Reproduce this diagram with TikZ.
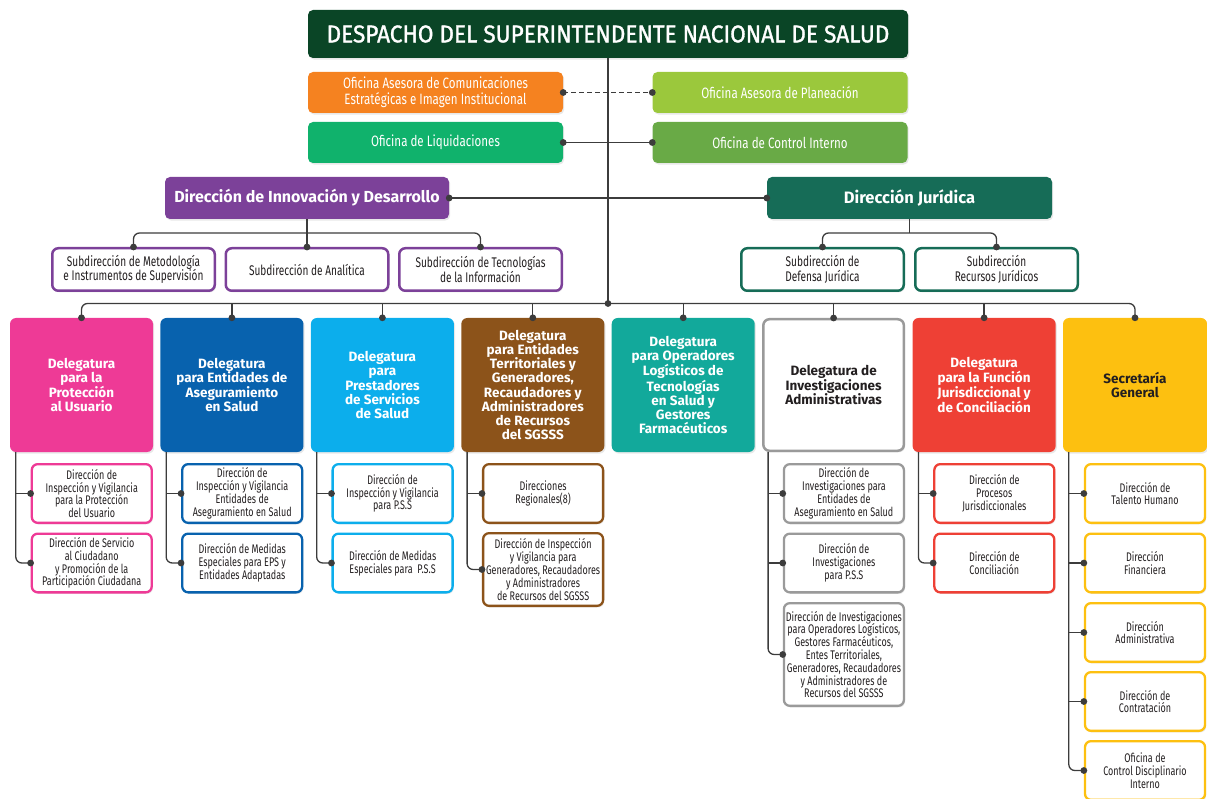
\documentclass[tikz,border=0pt]{standalone}
\usepackage{fontspec}
\setmainfont{Fira Sans}
\newfontfamily\condfont[FakeStretch=0.72]{Fira Sans}
\newfontfamily\ofont[FakeStretch=0.77]{Fira Sans}
\newfontfamily\titlefont[FakeStretch=0.93,FakeBold=1.2]{Fira Sans}
\usetikzlibrary{shadows}

\definecolor{linec}{HTML}{3C3C3C}
\definecolor{inktext}{HTML}{231F20}
\definecolor{cDespacho}{HTML}{0A4526}
\definecolor{cOrange}{HTML}{F58220}
\definecolor{cPlan}{HTML}{9BC83C}
\definecolor{cLiq}{HTML}{10B26C}
\definecolor{cCtrl}{HTML}{69AA46}
\definecolor{cPurple}{HTML}{7C4199}
\definecolor{cJur}{HTML}{166C57}
\definecolor{cPink}{HTML}{EE3A96}
\definecolor{cBlue}{HTML}{0862AE}
\definecolor{cSky}{HTML}{0CAEEC}
\definecolor{cBrown}{HTML}{8C531A}
\definecolor{cTeal}{HTML}{12A99B}
\definecolor{cGray}{HTML}{9A9A9A}
\definecolor{cRed}{HTML}{EE4035}
\definecolor{cYellow}{HTML}{FDC010}

\tikzset{
  link/.style={draw=linec, line width=1.3pt},
  jdot/.style={fill=linec},
  softshadow/.style={drop shadow={opacity=0.18, shadow xshift=1.2pt, shadow yshift=-1.6pt}},
  headbox/.style={rounded corners=5pt, softshadow, text=white, align=center, inner sep=2pt},
  ofbox/.style={headbox, minimum width=255pt, minimum height=41pt,
    font=\ofont\fontsize{15}{16}\selectfont},
  dirbox/.style={headbox, minimum height=42pt,
    font=\bfseries\fontsize{16}{18}\selectfont},
  subbox/.style={draw=#1, line width=2.5pt, fill=white, rounded corners=6pt, softshadow,
    minimum width=162.5pt, minimum height=42.5pt, align=center, text=inktext,
    font=\condfont\fontsize{14}{14.5}\selectfont, inner sep=1pt},
  delbox/.style={rounded corners=6pt, fill=#1, softshadow, text=white,
    minimum width=143pt, minimum height=134pt, align=center, inner sep=2pt,
    font=\bfseries\fontsize{13.5}{14.2}\selectfont},
  kidbox/.style={draw=#1, line width=2.3pt, fill=white, rounded corners=6pt, softshadow,
    minimum width=120pt, minimum height=58.7pt, align=center, text=inktext,
    font=\condfont\fontsize{12.5}{12.8}\selectfont, inner sep=1pt}
}

\begin{document}
\begin{tikzpicture}[x=1pt,y=-1pt]
\useasboundingbox (0,0) rectangle (1207,799);

% --- top level ---
\node[headbox, fill=cDespacho, minimum width=600pt, minimum height=48pt,
      font=\titlefont\fontsize{24.3}{26}\selectfont] (despacho) at (608,34)
      {DESPACHO DEL SUPERINTENDENTE NACIONAL DE SALUD};

\node[ofbox, fill=cOrange] (comunic) at (435.5,92.5)
  {Oficina Asesora de Comunicaciones\\Estratégicas e Imagen Institucional};
\node[ofbox, fill=cPlan] (planea) at (780,92.5) {Oficina Asesora de Planeación};
\node[ofbox, fill=cLiq] (liquid) at (435.5,142.5) {Oficina de Liquidaciones};
\node[ofbox, fill=cCtrl] (control) at (780,142.5) {Oficina de Control Interno};

\node[dirbox, fill=cPurple, minimum width=284pt] (innov) at (307,198)
  {Dirección de Innovación y Desarrollo};
\node[dirbox, fill=cJur, minimum width=285pt, font=\bfseries\fontsize{16.5}{18}\selectfont]
  (juridica) at (909.5,198) {Dirección Jurídica};

\node[subbox=cPurple] (sMet) at (133.5,269.5)
  {Subdirección de Metodología\\e Instrumentos de Supervisión};
\node[subbox=cPurple] (sAna) at (307,269.5) {Subdirección de Analítica};
\node[subbox=cPurple] (sTec) at (480.5,269.5)
  {Subdirección de Tecnologías\\de la Información};
\node[subbox=cJur] (sDef) at (822.5,269.5) {Subdirección de\\Defensa Jurídica};
\node[subbox=cJur] (sRec) at (996.5,269.5) {Subdirección\\Recursos Jurídicos};

% --- delegaturas ---
\node[delbox=cPink] (d1) at (81.5,385) {Delegatura\\para la\\Protección\\al Usuario};
\node[delbox=cBlue] (d2) at (231.9,385) {Delegatura\\para Entidades de\\Aseguramiento\\en Salud};
\node[delbox=cSky] (d3) at (382.4,385) {Delegatura\\para\\Prestadores\\de Servicios\\de Salud};
\node[delbox=cBrown] (d4) at (532.8,385)
  {Delegatura\\para Entidades\\Territoriales y\\Generadores,\\Recaudadores y\\Administradores\\de Recursos\\del SGSSS};
\node[delbox=cTeal] (d5) at (683.2,385)
  {Delegatura\\para Operadores\\Logísticos de\\Tecnologías\\en Salud y\\Gestores\\Farmacéuticos};
\node[delbox=white, draw=cGray, line width=2.5pt, minimum width=140.5pt, minimum height=131.5pt,
      text=inktext] (d6) at (833.6,385) {Delegatura de\\Investigaciones\\Administrativas};
\node[delbox=cRed] (d7) at (984.1,385) {Delegatura\\para la Función\\Jurisdiccional y\\de Conciliación};
\node[delbox=cYellow, text=inktext, minimum width=144pt] (d8) at (1135,385) {Secretaría\\General};

% --- direcciones ---
\node[kidbox=cPink] (k1a) at (91.75,493.5)
  {Dirección de\\Inspección y Vigilancia\\para la Protección\\del Usuario};
\node[kidbox=cPink] (k1b) at (91.75,563)
  {Dirección de Servicio\\al Ciudadano\\y Promoción de la\\Participación Ciudadana};

\node[kidbox=cBlue] (k2a) at (242.2,493.5)
  {Dirección de\\Inspección y Vigilancia\\Entidades de\\Aseguramiento en Salud};
\node[kidbox=cBlue] (k2b) at (242.2,563)
  {Dirección de Medidas\\Especiales para EPS y\\Entidades Adaptadas};

\node[kidbox=cSky] (k3a) at (392.6,493.5)
  {Dirección de\\Inspección y Vigilancia\\para P.S.S};
\node[kidbox=cSky] (k3b) at (392.6,563)
  {Dirección de Medidas\\Especiales para\ \ P.S.S};

\node[kidbox=cBrown] (k4a) at (543.1,493.5) {Direcciones\\Regionales(8)};
\node[kidbox=cBrown, minimum height=72.7pt] (k4b) at (543.1,569.5)
  {Dirección de Inspección\\y Vigilancia para\\Generadores, Recaudadores\\y Administradores\\de Recursos del SGSSS};

\node[kidbox=cGray] (k6a) at (843.9,493.5)
  {Dirección de\\Investigaciones para\\Entidades de\\Aseguramiento en Salud};
\node[kidbox=cGray] (k6b) at (843.9,563)
  {Dirección de\\Investigaciones\\para P.S.S};
\node[kidbox=cGray, minimum height=102.7pt] (k6c) at (843.9,654.5)
  {Dirección de Investigaciones\\para Operadores Logísticos,\\Gestores Farmacéuticos,\\Entes Territoriales,\\Generadores, Recaudadores\\y Administradores de\\Recursos del SGSSS};

\node[kidbox=cRed] (k7a) at (994.3,493.5) {Dirección de\\Procesos\\Jurisdiccionales};
\node[kidbox=cRed] (k7b) at (994.3,563) {Dirección de\\Conciliación};

\node[kidbox=cYellow] (k8a) at (1145,493.5) {Dirección de\\Talento Humano};
\node[kidbox=cYellow] (k8b) at (1145,563) {Dirección\\Financiera};
\node[kidbox=cYellow] (k8c) at (1145,632.5) {Dirección\\Administrativa};
\node[kidbox=cYellow] (k8d) at (1145,701.5) {Dirección de\\Contratación};
\node[kidbox=cYellow] (k8e) at (1145,770.5) {Oficina de\\Control Disciplinario\\Interno};

% --- connectors: main trunk and side offices ---
\coordinate (bus) at (608,303.5);
\draw[link] (despacho.south) -- (bus);

\draw[link, dash pattern=on 5pt off 3pt] (comunic.east) -- (planea.west);
\draw[link] (liquid.east) -- (control.west);
\draw[link] (innov.east) -- (juridica.west);
\foreach \n in {comunic.east, planea.west, liquid.east, control.west, innov.east, juridica.west, bus}
  \fill[jdot] (\n) circle (3.4pt);

% --- subdirecciones ---
\coordinate (ib) at (307,233);
\draw[link] (innov.south) -- (sAna.north);
\draw[link, rounded corners=6pt] (sMet.north) |- (ib) -| (sTec.north);
\coordinate (jb) at (909.5,233);
\draw[link] (juridica.south) -- (jb);
\draw[link, rounded corners=6pt] (sDef.north) |- (jb) -| (sRec.north);
\foreach \n in {sMet, sAna, sTec, sDef, sRec}
  \fill[jdot] (\n.north) circle (3.4pt);

% --- delegaturas bus ---
\draw[link, rounded corners=6pt] (d1.north) |- (bus) -| (d8.north);
\foreach \n in {d2, d3, d4, d5, d6, d7}
  \draw[link] (\n.north) -- (\n.north |- bus);
\foreach \n in {d1, d2, d3, d4, d5, d6, d7, d8}
  \fill[jdot] (\n.north) circle (3.4pt);

% --- direcciones under each delegatura ---
\foreach \d/\last in {d1/k1b, d2/k2b, d3/k3b, d4/k4b, d6/k6c, d7/k7b, d8/k8e}{
  \coordinate (v-\d) at ([xshift=6pt]\d.south west);
  \draw[link, rounded corners=6pt] (v-\d) |- (\last.west);
}
\foreach \d/\k in {d1/k1a, d2/k2a, d3/k3a, d4/k4a, d6/k6a, d6/k6b, d7/k7a,
                   d8/k8a, d8/k8b, d8/k8c, d8/k8d}
  \draw[link] (v-\d |- \k.west) -- (\k.west);
\foreach \k in {k1a, k1b, k2a, k2b, k3a, k3b, k4a, k4b, k6a, k6b, k6c, k7a, k7b,
                k8a, k8b, k8c, k8d, k8e}
  \fill[jdot] (\k.west) circle (3.4pt);
\end{tikzpicture}
\end{document}
